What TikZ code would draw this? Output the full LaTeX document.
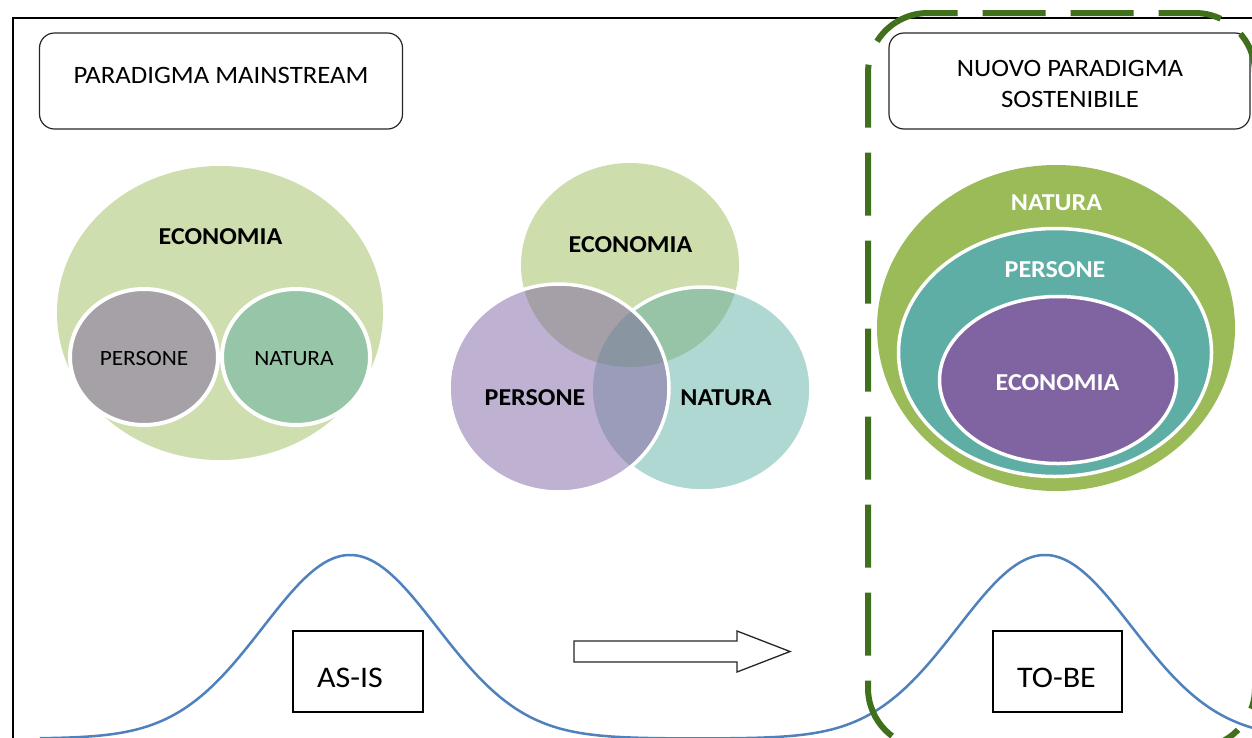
\documentclass[tikz,border=0pt]{standalone}
\usepackage{fontspec}
\usetikzlibrary{calc}
\setmainfont{Carlito}[FakeStretch=1.07]
\definecolor{lecon}{RGB}{207,222,174}
\definecolor{lpers}{RGB}{166,160,167}
\definecolor{lnat}{RGB}{151,197,167}
\definecolor{vE}{RGB}{205,221,172}
\definecolor{vP}{RGB}{191,177,210}
\definecolor{vN}{RGB}{176,216,211}
\definecolor{vEP}{RGB}{165,159,167}
\definecolor{vEN}{RGB}{151,196,166}
\definecolor{vPN}{RGB}{154,156,186}
\definecolor{vEPN}{RGB}{138,149,162}
\definecolor{rnat}{RGB}{155,187,89}
\definecolor{rpers}{RGB}{95,174,166}
\definecolor{recon}{RGB}{128,100,162}
\definecolor{curveblue}{RGB}{79,129,189}
\definecolor{dgreen}{RGB}{65,112,28}
\begin{document}
\begin{tikzpicture}[x=1pt,y=-1pt,
  titlebox/.style={draw=black!85, line width=1.2pt, rounded corners=15pt, fill=white},
  titletext/.style={font=\fontsize{25}{31}\selectfont, anchor=base, inner sep=0pt, align=center},
  boldtext/.style={font=\fontsize{24.3}{29}\selectfont\bfseries, anchor=base, inner sep=0pt},
  regtext/.style={font=\fontsize{21.8}{26}\selectfont, anchor=base, inner sep=0pt},
  bigtext/.style={font=\fontsize{29.9}{35}\selectfont, anchor=base, inner sep=0pt},
  statebox/.style={draw=black, line width=2pt, fill=white},
  whiteedge/.style={draw=white, line width=4pt},
  curve/.style={draw=curveblue, line width=2.5pt},
  frame/.style={draw=black, line width=2pt},
  blockarrow/.style={draw=black!85, line width=1.3pt, fill=white},
  greenzone/.style={draw=dgreen, line width=6pt, line cap=butt, dash pattern=on 63pt off 25pt}
]
\useasboundingbox (0,0) rectangle (1252,737);
\clip (0,0) rectangle (1252,737);
\fill[white] (0,0) rectangle (1252,737);

% outer frame
\draw[frame] (13,780) -- (13,18) -- (1290,18);

% title boxes
\node[titlebox, minimum width=363pt, minimum height=96pt] (box1) at (221,81) {};
\node[titletext] (title1) at (221,83) {PARADIGMA MAINSTREAM};
\node[titlebox, minimum width=361pt, minimum height=96pt] (box2) at (1069.5,81) {};
\node[titletext, anchor=north] (title2) at (1070,60) {NUOVO PARADIGMA\\SOSTENIBILE};

% left diagram
\fill[lecon] (220,313) ellipse [x radius=163, y radius=147];
\fill[lpers] (144,357) ellipse [x radius=74, y radius=68];
\draw[whiteedge] (144,357) ellipse [x radius=74, y radius=68];
\fill[lnat] (296,357) ellipse [x radius=74, y radius=68];
\draw[whiteedge] (296,357) ellipse [x radius=74, y radius=68];
\node[boldtext] (leco) at (220.5,244) {ECONOMIA};
\node[regtext] (lper) at (144,365) {PERSONE};
\node[regtext] (lnt) at (294,365) {NATURA};

% Venn diagram
\def\cE{(630,265) ellipse [x radius=109, y radius=102]}
\def\cP{(559,388) ellipse [x radius=110, y radius=104]}
\def\cN{(702,389) ellipse [x radius=109, y radius=102]}
\fill[vE] \cE;
\fill[vN] \cN;
\begin{scope}\clip \cN; \fill[vEN] \cE; \end{scope}
\draw[white, line width=3.5pt] \cN;
\fill[vP] \cP;
\begin{scope}\clip \cP;
  \fill[vEP] \cE;
  \fill[vPN] \cN;
  \begin{scope}\clip \cE; \fill[vEPN] \cN; \end{scope}
\end{scope}
\draw[white, line width=3.5pt] \cP;
\node[boldtext] (veco) at (630.5,252) {ECONOMIA};
\node[boldtext] (vper) at (535,405) {PERSONE};
\node[boldtext] (vnat) at (726,405) {NATURA};

% nested diagram
\fill[rnat] (1056,328) ellipse [x radius=179, y radius=163];
\fill[rpers] (1055,352.5) ellipse [x radius=156.5, y radius=124];
\draw[white, line width=3.5pt] (1055,352.5) ellipse [x radius=156.5, y radius=124];
\fill[recon] (1058,380) ellipse [x radius=118.5, y radius=83.5];
\draw[white, line width=3.5pt] (1058,380) ellipse [x radius=118.5, y radius=83.5];
\node[boldtext, text=white] (rnt) at (1056.5,210) {NATURA};
\node[boldtext, text=white] (rper) at (1055,277) {PERSONE};
\node[boldtext, text=white] (reco) at (1057.5,390) {ECONOMIA};

% bell curves
\draw[curve] plot[domain=40:1252, samples=400]
  (\x, {738.5 - 183.5*(exp(-0.5*min(((\x-350)/87)^2,40)) + exp(-0.5*min(((\x-1045)/87)^2,40)))});

% state boxes
\node[statebox, minimum width=130pt, minimum height=81pt] (asisbox) at (358,671.5) {};
\node[bigtext] (asis) at (350,687) {AS-IS};
\node[statebox, minimum width=129pt, minimum height=81pt] (tobebox) at (1057.5,671.5) {};
\node[bigtext] (tobe) at (1056.5,687) {TO-BE};

% block arrow
\coordinate (arrtail) at (574,651.5);
\coordinate (arrtip) at (790,651.5);
\draw[blockarrow] (arrtail) ++(0,-10.5) -- (737,641) -- (737,631) -- (arrtip) -- (737,672) -- (737,662) -- (574,662) -- cycle;

% green dashed zone (rounded rectangle, drawn in two runs from the top-left corner)
\coordinate (gzs) at ($(928,73)+(238:60)$);
\draw[greenzone]
  (gzs) arc[start angle=238, end angle=270, radius=60]
  -- (1195,13) arc[start angle=270, end angle=360, radius=60]
  -- (1255,688) arc[start angle=0, end angle=90, radius=60] -- (1100,748);
\draw[greenzone, dash phase=35.6pt]
  (gzs) arc[start angle=238, end angle=180, radius=60]
  -- (868,688) arc[start angle=180, end angle=90, radius=60] -- (1100,748);
\end{tikzpicture}
\end{document}
